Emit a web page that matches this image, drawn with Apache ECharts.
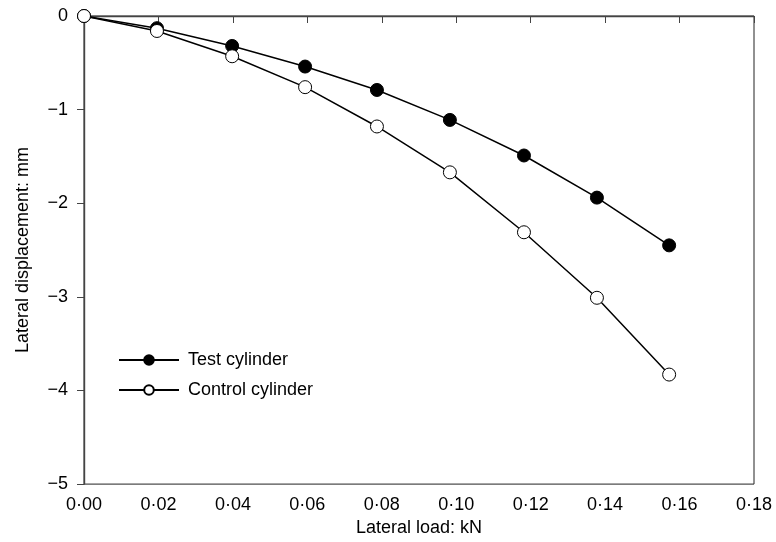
<!DOCTYPE html>
<html>
<head>
<meta charset="utf-8">
<script src="https://cdn.jsdelivr.net/npm/echarts@6/dist/echarts.min.js"></script>
<style>
html,body{margin:0;padding:0;background:#fff;}
#chart{width:776px;height:542px;}
</style>
</head>
<body>
<div id="chart"></div>
<script>
// 横向荷载 (kN)
var loads = [0, 0.0196, 0.0398, 0.0594, 0.0787, 0.0983, 0.1182, 0.1378, 0.1572];
// 试验圆柱位移 (mm)
var testDisp = [0, -0.13, -0.32, -0.54, -0.79, -1.11, -1.49, -1.94, -2.45];
// 对照圆柱位移 (mm)
var controlDisp = [0, -0.16, -0.43, -0.76, -1.18, -1.67, -2.31, -3.01, -3.83];

var seriesNames = ['Test cylinder', 'Control cylinder'];

function pairs(xs, ys){
    var list = [];
    for(var i=0;i<xs.length;i++){
        list.push([xs[i], ys[i]]);
    }
    return list;
}

var FONT = 'Liberation Sans, Arial, sans-serif';
var axisLine = {show:true, lineStyle:{color:'#444', width:1.4}};

var option = {
    animation:false,
    backgroundColor:'#fff',
    grid:{left:84, right:22, top:16, bottom:57, show:true, borderColor:'#222', borderWidth:1},
    legend:{
        orient:'vertical', left:118, top:351, padding:0, itemWidth:60, itemHeight:12, itemGap:12,
        data:seriesNames,
        textStyle:{fontFamily:FONT, fontSize:18, color:'#000', padding:[0,0,0,4]}
    },
    xAxis:{
        type:'value', min:0, max:0.18, interval:0.02,
        name:'Lateral load: kN', nameLocation:'middle', nameGap:32,
        nameTextStyle:{fontFamily:FONT, fontSize:18, color:'#000'},
        axisLine:axisLine,
        axisTick:{show:true, length:7, inside:false, lineStyle:{color:'#444'}},
        splitLine:{show:false},
        axisLabel:{fontFamily:FONT, fontSize:18, color:'#000', margin:12,
            formatter:function(v){ return v.toFixed(2).replace('.', '\u00b7'); }}
    },
    yAxis:{
        type:'value', min:-5, max:0, interval:1,
        name:'Lateral displacement: mm', nameLocation:'middle', nameGap:52,
        nameTextStyle:{fontFamily:FONT, fontSize:18, color:'#000'},
        axisLine:axisLine,
        axisTick:{show:true, length:7, inside:false, lineStyle:{color:'#444'}},
        splitLine:{show:false},
        axisLabel:{fontFamily:FONT, fontSize:18, color:'#000', margin:16,
            formatter:function(v){ return v < 0 ? '\u2212' + Math.abs(v) : String(v); }}
    },
    series:[
        {
            name:seriesNames[0], type:'line', data:pairs(loads, testDisp),
            symbol:'circle', symbolSize:13, showAllSymbol:true,
            lineStyle:{color:'#000', width:1.5},
            itemStyle:{color:'#000', borderColor:'#000', borderWidth:1}
        },
        {
            name:seriesNames[1], type:'line', data:pairs(loads, controlDisp),
            symbol:'circle', symbolSize:13, showAllSymbol:true,
            lineStyle:{color:'#000', width:1.5},
            itemStyle:{color:'#fff', borderColor:'#000', borderWidth:1}
        }
    ]
};

var myChart = echarts.init(document.getElementById('chart'), null, {renderer:'canvas'});
myChart.setOption(option);
</script>
</body>
</html>
